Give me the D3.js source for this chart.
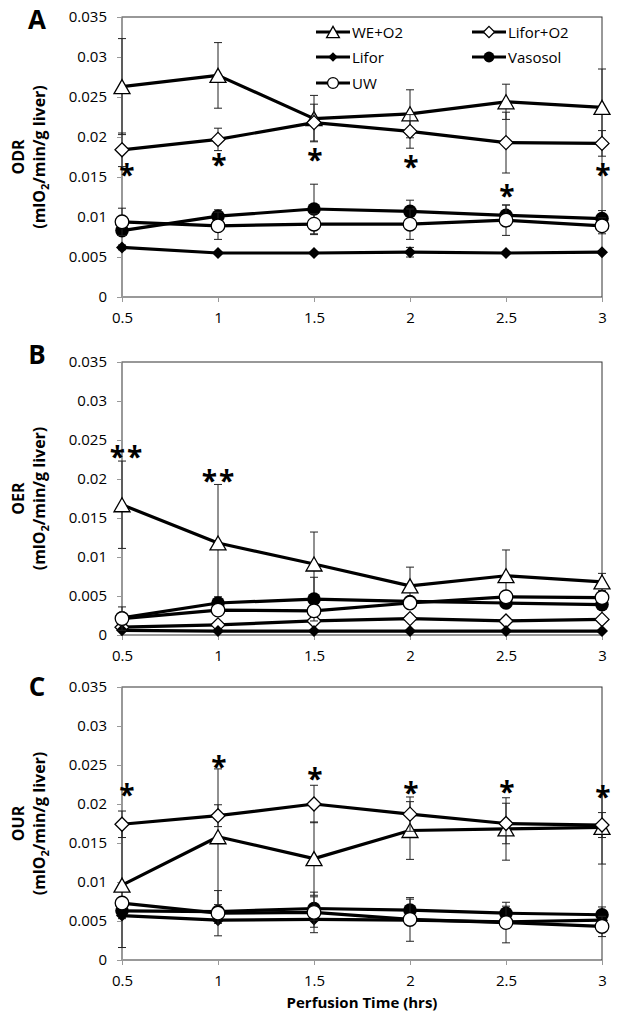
<!DOCTYPE html>
<html>
<head>
<meta charset="utf-8">
<script src="https://cdn.jsdelivr.net/npm/d3@7"></script>
<style>
  body { margin: 0; background: #fff; }
  svg { display: block; }
  text { font-family: "Open Sans", "DejaVu Sans", sans-serif; fill: #000; }
</style>
</head>
<body>
<div id="chart"></div>
<script>
// perfusion time points (hrs) and y tick values shared by all panels
var times = [0.5, 1, 1.5, 2, 2.5, 3];
var yTicks = [0, 0.005, 0.01, 0.015, 0.02, 0.025, 0.03, 0.035];
var seriesNames = ["WE+O2", "Lifor+O2", "Lifor", "Vasosol", "UW"];

// A - ODR
var odrWE = [0.0263, 0.0277, 0.0223, 0.0229, 0.0244, 0.0237];
var odrWEErr = [0.0060, 0.0041, 0.0029, 0.0030, 0.0022, 0.0048];
var odrLiforO2 = [0.0184, 0.0197, 0.0218, 0.0207, 0.0193, 0.0192];
var odrLiforO2Err = [0.0021, 0.0014, 0.0023, 0.0021, 0.0038, 0.0016];
var odrLifor = [0.0062, 0.0055, 0.0055, 0.0056, 0.0055, 0.0056];
var odrLiforErr = [0.0003, 0.0002, 0.0002, 0.0006, 0.0002, 0.0002];
var odrVasosol = [0.0083, 0.0101, 0.0110, 0.0107, 0.0102, 0.0098];
var odrVasosolErr = [0.0006, 0.0008, 0.0031, 0.0014, 0.0013, 0.0010];
var odrUW = [0.0094, 0.0089, 0.0091, 0.0091, 0.0096, 0.0089];
var odrUWErr = [0.0017, 0.0017, 0.0013, 0.0019, 0.0019, 0.0010];
var odrStars = [0.0159, 0.0171, 0.0178, 0.0169, 0.0133, 0.0159];

// B - OER
var oerWE = [0.0167, 0.0118, 0.0091, 0.0063, 0.0076, 0.0068];
var oerWEErr = [0.0056, 0.0075, 0.0041, 0.0024, 0.0033, 0.0011];
var oerLiforO2 = [0.0010, 0.0013, 0.0018, 0.0021, 0.0018, 0.0020];
var oerLiforO2Err = [0.0002, 0.0002, 0.0002, 0.0002, 0.0002, 0.0002];
var oerLifor = [0.0006, 0.0005, 0.0005, 0.0005, 0.0005, 0.0005];
var oerLiforErr = [0.0001, 0.0001, 0.0001, 0.0001, 0.0001, 0.0001];
var oerVasosol = [0.0022, 0.0041, 0.0046, 0.0043, 0.0041, 0.0039];
var oerVasosolErr = [0.0004, 0.0008, 0.0028, 0.0004, 0.0006, 0.0004];
var oerUW = [0.0021, 0.0032, 0.0031, 0.0041, 0.0049, 0.0048];
var oerUWErr = [0.0015, 0.0004, 0.0004, 0.0004, 0.0006, 0.0004];
var oerStars = [0.0235, 0.0204];

// C - OUR
var ourWE = [0.0096, 0.0158, 0.0130, 0.0166, 0.0168, 0.0170];
var ourWEErr = [0.0080, 0.0087, 0.0047, 0.0037, 0.0040, 0.0047];
var ourLiforO2 = [0.0174, 0.0185, 0.0200, 0.0187, 0.0175, 0.0173];
var ourLiforO2Err = [0.0017, 0.0014, 0.0024, 0.0022, 0.0026, 0.0016];
var ourLifor = [0.0057, 0.0051, 0.0052, 0.0051, 0.0049, 0.0051];
var ourLiforErr = [0.0004, 0.0004, 0.0010, 0.0003, 0.0003, 0.0003];
var ourVasosol = [0.0063, 0.0062, 0.0066, 0.0064, 0.0060, 0.0058];
var ourVasosolErr = [0.0004, 0.0004, 0.0015, 0.0014, 0.0009, 0.0010];
var ourUW = [0.0073, 0.0060, 0.0061, 0.0052, 0.0048, 0.0043];
var ourUWErr = [0.0005, 0.0029, 0.0026, 0.0028, 0.0026, 0.0013];
var ourStars = [0.0218, 0.0254, 0.0238, 0.0220, 0.0222, 0.0215];

var W = 624, H = 1024;
var left = 122, right = 602;

var panels = [
    { letter: "A", title: "ODR", top: 17, bottom: 297, legend: true, star: "*",
      means: [odrWE, odrLiforO2, odrLifor, odrVasosol, odrUW],
      errs: [odrWEErr, odrLiforO2Err, odrLiforErr, odrVasosolErr, odrUWErr],
      stars: odrStars, letterY: 20 },
    { letter: "B", title: "OER", top: 362, bottom: 635, legend: false, star: "**",
      means: [oerWE, oerLiforO2, oerLifor, oerVasosol, oerUW],
      errs: [oerWEErr, oerLiforO2Err, oerLiforErr, oerVasosolErr, oerUWErr],
      stars: oerStars, letterY: 355 },
    { letter: "C", title: "OUR", top: 687, bottom: 960, legend: false, star: "*",
      means: [ourWE, ourLiforO2, ourLifor, ourVasosol, ourUW],
      errs: [ourWEErr, ourLiforO2Err, ourLiforErr, ourVasosolErr, ourUWErr],
      stars: ourStars, letterY: 687 }
];

var svg = d3.select("#chart").append("svg")
    .attr("width", W)
    .attr("height", H);

var x = d3.scaleLinear().domain([0.5, 3]).range([left, right]);

// marker shapes, one per series
function marker(g, i, k) {
    k = k || 1;
    if (i === 0) {
        g.append("path")
            .attr("d", "M0," + (-7 * k) + "L" + (8 * k) + "," + (7 * k) + "L" + (-8 * k) + "," + (7 * k) + "Z")
            .attr("fill", "#fff").attr("stroke", "#000").attr("stroke-width", 1.3);
    } else if (i === 1) {
        g.append("path")
            .attr("d", "M0," + (-7 * k) + "L" + (7 * k) + ",0L0," + (7 * k) + "L" + (-7 * k) + ",0Z")
            .attr("fill", "#fff").attr("stroke", "#000").attr("stroke-width", 1.3);
    } else if (i === 2) {
        g.append("path")
            .attr("d", "M0," + (-6 * k) + "L" + (6 * k) + ",0L0," + (6 * k) + "L" + (-6 * k) + ",0Z")
            .attr("fill", "#000");
    } else if (i === 3) {
        g.append("circle").attr("r", 6.8 * k).attr("fill", "#000");
    } else {
        g.append("circle").attr("r", 6.8 * k)
            .attr("fill", "#fff").attr("stroke", "#000").attr("stroke-width", 1.3);
    }
}

panels.forEach(function (p) {
    var y = d3.scaleLinear().domain([0, 0.035]).range([p.bottom, p.top]);
    var g = svg.append("g");

    // plot area border (top / right visible)
    g.append("rect")
        .attr("x", left).attr("y", p.top)
        .attr("width", right - left).attr("height", p.bottom - p.top)
        .attr("fill", "none").attr("stroke", "#333").attr("stroke-width", 1);

    var yAxis = g.append("g")
        .attr("transform", "translate(" + left + ",0)")
        .call(d3.axisLeft(y).tickValues(yTicks).tickSize(5).tickSizeOuter(0).tickPadding(10)
            .tickFormat(function (d) { return String(+d.toFixed(3)); }));
    var xAxis = g.append("g")
        .attr("transform", "translate(0," + p.bottom + ")")
        .call(d3.axisBottom(x).tickValues(times).tickSize(5).tickSizeOuter(0).tickPadding(10)
            .tickFormat(function (d) { return String(d); }));
    [yAxis, xAxis].forEach(function (a) {
        a.selectAll("path, line").attr("stroke", "#999");
        a.selectAll("text").attr("font-size", "15px").attr("fill", "#000")
            .attr("font-family", "'Open Sans', sans-serif");
    });

    // panel letter
    g.append("text")
        .attr("x", 37).attr("y", p.letterY + 9)
        .attr("text-anchor", "middle")
        .attr("font-size", "26px").attr("font-weight", "bold")
        .text(p.letter);

    // y axis title, two lines
    var cy = (p.top + p.bottom) / 2;
    g.append("text")
        .attr("transform", "translate(24," + cy + ") rotate(-90)")
        .attr("text-anchor", "middle")
        .attr("font-size", "16px").attr("font-weight", "bold")
        .text(p.title);
    var t2 = g.append("text")
        .attr("transform", "translate(45," + cy + ") rotate(-90)")
        .attr("text-anchor", "middle")
        .attr("font-size", "16px").attr("font-weight", "bold");
    t2.append("tspan").text("(mlO");
    t2.append("tspan").attr("font-size", "11px").attr("dy", 4).text("2");
    t2.append("tspan").attr("dy", -4).text("/min/g liver)");

    var line = d3.line()
        .x(function (d, i) { return x(times[i]); })
        .y(function (d) { return y(d); });

    p.means.forEach(function (vals, s) {
        var errs = p.errs[s];
        var sg = g.append("g");
        // error bars
        vals.forEach(function (v, i) {
            var cx = x(times[i]);
            var y1 = y(Math.max(0, v - errs[i])), y2 = y(v + errs[i]);
            sg.append("line").attr("x1", cx).attr("x2", cx).attr("y1", y1).attr("y2", y2)
                .attr("stroke", "#222").attr("stroke-width", 1);
            [y1, y2].forEach(function (yy) {
                sg.append("line").attr("x1", cx - 4).attr("x2", cx + 4).attr("y1", yy).attr("y2", yy)
                    .attr("stroke", "#222").attr("stroke-width", 1);
            });
        });
        sg.append("path")
            .datum(vals)
            .attr("d", line)
            .attr("fill", "none")
            .attr("stroke", "#000")
            .attr("stroke-width", 3.2)
            .attr("stroke-linejoin", "round");
        vals.forEach(function (v, i) {
            var mg = sg.append("g").attr("transform", "translate(" + x(times[i]) + "," + y(v) + ")");
            marker(mg, s, 1);
        });
    });

    // significance stars
    p.stars.forEach(function (v, i) {
        g.append("text")
            .attr("x", x(times[i]) + (i === 0 ? 5 : 1))
            .attr("y", y(v) + 15)
            .attr("text-anchor", "middle")
            .attr("font-size", "28px")
            .attr("font-weight", "bold")
            .attr("letter-spacing", p.star.length > 1 ? "2px" : "0px")
            .text(p.star);
    });

    if (p.legend) {
        var items = [
            { s: 0, x: 316, y: 32 }, { s: 1, x: 472, y: 32 },
            { s: 2, x: 316, y: 57 }, { s: 3, x: 472, y: 57 },
            { s: 4, x: 316, y: 83 }
        ];
        items.forEach(function (it) {
            var lg = g.append("g").attr("transform", "translate(" + it.x + "," + it.y + ")");
            lg.append("line").attr("x1", 0).attr("x2", 34).attr("stroke", "#000").attr("stroke-width", 3.2);
            marker(lg.append("g").attr("transform", "translate(17,0)"), it.s, 0.8);
            lg.append("text").attr("x", 36).attr("y", 5.5)
                .attr("font-size", "15px")
                .text(seriesNames[it.s]);
        });
    }
});

svg.append("text")
    .attr("x", (left + right) / 2)
    .attr("y", 1008)
    .attr("text-anchor", "middle")
    .attr("font-size", "15px")
    .attr("font-weight", "bold")
    .text("Perfusion Time (hrs)");
</script>
</body>
</html>
